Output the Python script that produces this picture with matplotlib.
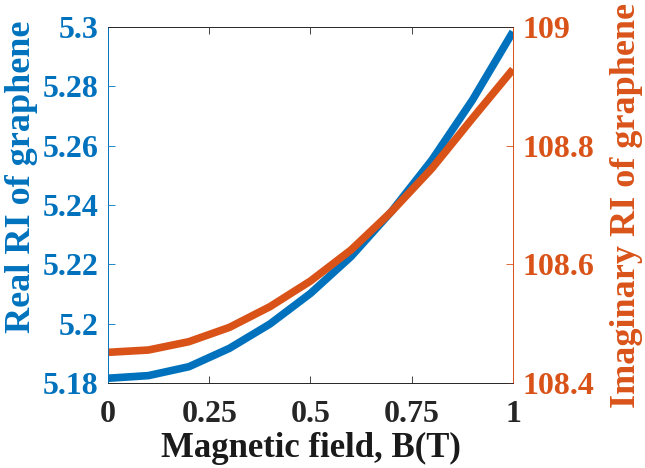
import numpy as np
import matplotlib
matplotlib.use("Agg")
import matplotlib.pyplot as plt

# magnetic field values (T)
b_field = [0, 0.1, 0.2, 0.3, 0.4, 0.5, 0.6, 0.7, 0.8, 0.9, 1.0]

# real part of refractive index (left axis)
real_ri = [5.1816, 5.1825, 5.1855, 5.1917, 5.1999, 5.2102, 5.2226,
           5.2378, 5.2552, 5.2754, 5.2984]

# imaginary part of refractive index (right axis)
imag_ri = [108.4517, 108.4556, 108.4697, 108.4938, 108.5287, 108.5719,
           108.6242, 108.6888, 108.7618, 108.8461, 108.9287]

x_ticks = [0, 0.25, 0.5, 0.75, 1]
x_ticklabels = ['0', '0.25', '0.5', '0.75', '1']
left_ticks = [5.18, 5.2, 5.22, 5.24, 5.26, 5.28, 5.3]
left_ticklabels = ['5.18', '5.2', '5.22', '5.24', '5.26', '5.28', '5.3']
right_ticks = [108.4, 108.6, 108.8, 109]
right_ticklabels = ['108.4', '108.6', '108.8', '109']

blue = (0, 0.447, 0.741)
orange = (0.85, 0.325, 0.098)
dark = (0.15, 0.15, 0.15)

plt.rcParams['font.family'] = 'Liberation Serif'
plt.rcParams['font.weight'] = 'bold'

fig = plt.figure(figsize=(6.45, 4.68), dpi=100)
ax = fig.add_axes([0.1674, 0.1816, 0.6279, 0.7607])
ax2 = ax.twinx()

ax.plot(b_field, real_ri, color=blue, lw=5.5, solid_capstyle='butt')
ax2.plot(b_field, imag_ri, color=orange, lw=5.5, solid_capstyle='butt')

ax.set_xlim(0, 1)
ax.set_ylim(5.18, 5.3)
ax2.set_ylim(108.4, 109)

ax.set_xticks(x_ticks)
ax.set_xticklabels(x_ticklabels)
ax.set_yticks(left_ticks)
ax.set_yticklabels(left_ticklabels)
ax2.set_yticks(right_ticks)
ax2.set_yticklabels(right_ticklabels)

ax.tick_params(axis='x', direction='in', top=True, colors=dark, labelsize=23,
               length=5, width=0.6, pad=12)
ax.tick_params(axis='y', direction='in', colors=blue, labelsize=23,
               length=5, width=0.6, pad=7)
ax2.tick_params(axis='y', direction='in', colors=orange, labelsize=23,
                length=5, width=0.6, pad=7)
ax2.tick_params(axis='x', top=False, bottom=False)

for a in (ax, ax2):
    a.spines['top'].set_color(dark)
    a.spines['bottom'].set_color(dark)
    a.spines['left'].set_color(blue)
    a.spines['right'].set_color(orange)
    for s in a.spines.values():
        s.set_linewidth(0.6)

ax.set_xlabel('Magnetic field, B(T)', fontsize=25, fontweight='bold',
              color=(0.1, 0.1, 0.1), labelpad=2)
ax.set_ylabel('Real RI of graphene', fontsize=26, fontweight='bold',
              color=blue)
ax2.set_ylabel('Imaginary RI of graphene', fontsize=26, fontweight='bold',
               color=orange)
ax.yaxis.set_label_coords(-0.172, 0.579)
ax2.yaxis.set_label_coords(1.24, 0.5)

fig.savefig('out.png', dpi=100)
